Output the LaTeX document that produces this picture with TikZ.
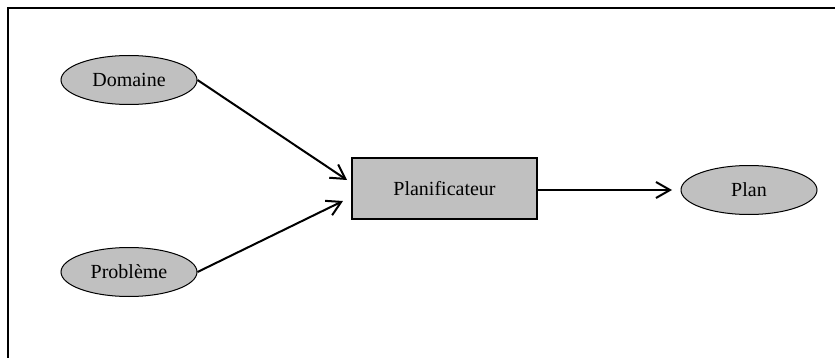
\documentclass[tikz,border=0pt]{standalone}
\usepackage{fontspec}
\setmainfont{Liberation Serif}
\usetikzlibrary{arrows.meta}

\tikzset{
    oval/.style={ellipse, draw, fill=figgray, line width=0.5pt,
                 minimum width=68pt, minimum height=24.5pt, inner sep=0pt},
    box/.style={rectangle, draw, fill=figgray, line width=0.75pt,
                minimum width=92.5pt, minimum height=30.5pt},
    flow/.style={line width=1pt, -{Straight Barb[length=7pt, width=8pt, line width=1pt]}}
}
\definecolor{figgray}{HTML}{C0C0C0}
\usetikzlibrary{shapes.geometric}

\begin{document}
\begin{tikzpicture}[x=0.5pt, y=-0.5pt, font=\fontsize{10}{12}\selectfont]
    \useasboundingbox (0,0) rectangle (835,358);
    \clip (0,0) rectangle (835,358);
    \draw[line width=0.75pt]   (8,8) rectangle (900,420);

    \node[oval]   (dom)   at (129,80)    {Domaine};
    \node[oval]   (prob)  at (129,272)   {Problème};
    \node[box]    (plan)  at (444.5,188.5) {Planificateur};
    \node[oval]   (res)   at (749,190)   {Plan};

    \coordinate   (in1)   at (347,180);
    \coordinate   (in2)   at (343,201);
    \coordinate   (out)   at (672,190);

    \draw[flow]   (dom.east)  --  (in1);
    \draw[flow]   (prob.east) --  (in2);
    \draw[flow]   (plan.east |- out) --  (out);
\end{tikzpicture}
\end{document}
